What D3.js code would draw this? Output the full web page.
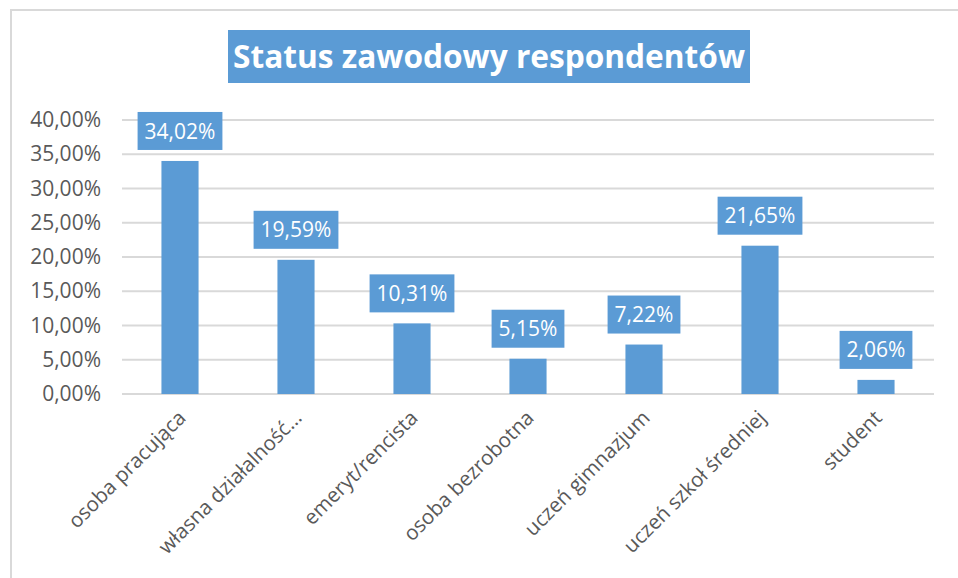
<!DOCTYPE html>
<html lang="pl">
<head>
    <meta charset="UTF-8">
    <title>Status zawodowy respondentów</title>
    <script src="https://d3js.org/d3.v7.min.js"></script>
    <style>
        body { margin: 0; background: #fff; }
        text { font-family: "Open Sans", "Noto Sans", sans-serif; }
    </style>
</head>
<body>
<svg id="chart" width="958" height="578"></svg>
<script>
    // data
    const categories = ["osoba pracująca", "własna działalność…", "emeryt/rencista", "osoba bezrobotna",
        "uczeń gimnazjum", "uczeń szkoł średniej", "student"];
    const values = [34.02, 19.59, 10.31, 5.15, 7.22, 21.65, 2.06];
    const yTicks = [0, 5, 10, 15, 20, 25, 30, 35, 40];
    const title = "Status zawodowy respondentów";

    const blue = "#5b9bd5";
    const grey = "#595959";
    const gridColor = "#d9d9d9";

    const fmt = v => v.toFixed(2).replace(".", ",") + "%";

    const svg = d3.select("#chart");

    // chart frame (cut off at right/bottom as in the screenshot)
    svg.append("rect")
        .attr("x", 11).attr("y", 10)
        .attr("width", 1000).attr("height", 700)
        .attr("fill", "none")
        .attr("stroke", gridColor)
        .attr("stroke-width", 2);

    // title with blue box
    const titleBox = {x: 228, y: 30, w: 522, h: 53};
    svg.append("rect")
        .attr("x", titleBox.x).attr("y", titleBox.y)
        .attr("width", titleBox.w).attr("height", titleBox.h)
        .attr("fill", blue);
    svg.append("text")
        .attr("x", titleBox.x + titleBox.w / 2)
        .attr("y", titleBox.y + titleBox.h / 2)
        .attr("dy", "0.36em")
        .attr("text-anchor", "middle")
        .attr("fill", "#fff")
        .attr("font-size", 33)
        .attr("font-weight", "bold")
        .attr("textLength", 512)
        .attr("lengthAdjust", "spacingAndGlyphs")
        .text(title);

    const x = d3.scaleBand()
        .domain(categories)
        .range([122, 934])
        .paddingInner(0.68)
        .paddingOuter(0.34);

    const y = d3.scaleLinear()
        .domain([0, 40])
        .range([394, 120]);

    // gridlines
    svg.append("g")
        .selectAll("line")
        .data(yTicks)
        .join("line")
        .attr("x1", 122).attr("x2", 934)
        .attr("y1", d => y(d)).attr("y2", d => y(d))
        .attr("stroke", gridColor)
        .attr("stroke-width", 2);

    // y axis labels
    const yAxis = svg.append("g")
        .attr("transform", "translate(101,0)")
        .call(d3.axisLeft(y).tickValues(yTicks).tickSize(0).tickPadding(0).tickFormat(fmt));
    yAxis.select(".domain").remove();
    yAxis.selectAll("text")
        .attr("fill", grey)
        .attr("font-size", 21)
        .style("font-family", "'Open Sans', sans-serif");

    // bars
    svg.append("g")
        .selectAll("rect")
        .data(values)
        .join("rect")
        .attr("x", (d, i) => x(categories[i]))
        .attr("y", d => y(d))
        .attr("width", x.bandwidth())
        .attr("height", d => y(0) - y(d))
        .attr("fill", blue);

    // data labels with boxes
    const labels = svg.append("g")
        .selectAll("g")
        .data(values)
        .join("g")
        .attr("transform", (d, i) => `translate(${x(categories[i]) + x.bandwidth() / 2},${y(d) - 11})`);
    labels.append("text")
        .attr("y", -19)
        .attr("dy", "0.36em")
        .attr("text-anchor", "middle")
        .attr("fill", "#fff")
        .attr("font-size", 21)
        .text(fmt)
        .each(function () {
            const w = this.getComputedTextLength() + 14;
            d3.select(this.parentNode).insert("rect", "text")
                .attr("x", -w / 2).attr("y", -38)
                .attr("width", w).attr("height", 38)
                .attr("fill", blue);
        });

    // rotated category labels
    svg.append("g")
        .selectAll("text")
        .data(categories)
        .join("text")
        .attr("transform", d => `translate(${x(d) + x.bandwidth() / 2 + 2},${414}) rotate(-45)`)
        .attr("text-anchor", "end")
        .attr("dy", "0.35em")
        .attr("fill", grey)
        .attr("font-size", 20.5)
        .text(d => d);
</script>
</body>
</html>
